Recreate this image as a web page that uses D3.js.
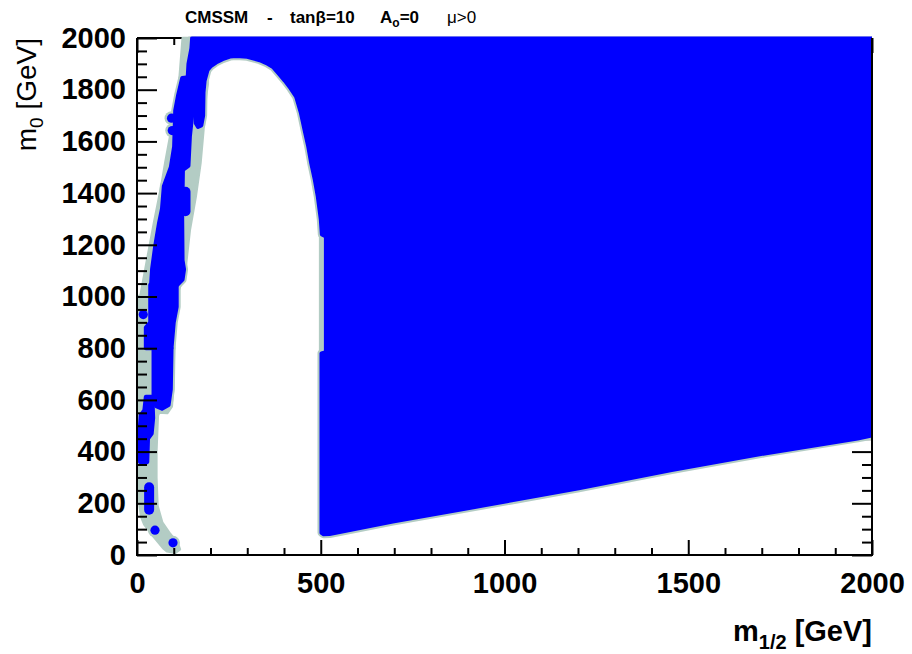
<!DOCTYPE html>
<html>
<head>
<meta charset="utf-8">
<script src="https://cdn.jsdelivr.net/npm/d3@7"></script>
<style>
  html, body { margin: 0; padding: 0; background: #fff; }
  svg { display: block; }
</style>
</head>
<body>
<svg id="chart" width="912" height="654"></svg>
<script>
// ---------------- data (m1/2 [GeV], m0 [GeV]) ----------------
const titleParts = ["CMSSM", "-", "tanβ=10", "A", "o", "=0", "μ>0"];
const xMajorTicks = [0, 500, 1000, 1500, 2000];
const yMajorTicks = [0, 200, 400, 600, 800, 1000, 1200, 1400, 1600, 1800, 2000];

// main allowed (blue) region incl. the upper band
const mainRegion = [[150,2000],[2000,2000],[2000,462],[1961,451],[1708,393],[1455,329],[1202,258],
  [949,193],[696,129],[524,81],[508,80],[502,86],[502,780],[514,785],[514,1232],[503,1240],
  [500,1300],[492,1386],[484,1450],[474,1516],[466,1580],[456,1644],[446,1710],[433,1773],
  [418,1805],[402,1835],[386,1862],[370,1888],[352,1903],[334,1914],[300,1927],[271,1930],
  [253,1928],[233,1918],[215,1905],[200,1890],[192,1876],[184,1835],[181,1790],[180,1700],
  [175,1662],[166,1656],[160,1670],[157,1760],[148,1800],[138,1850],[140,1900],[148,1960]];
// left strip pieces (blue)
const stripA = [[123,1845],[112,1780],[104,1720],[101,1580],[92,1500],[73,1427],[68,1340],[60,1285],
  [50,1200],[41,1106],[38,1040],[60,1035],[110,1045],[124,1065],[128,1105],[124,1140],[123,1300],
  [125,1490],[140,1505],[144,1620],[150,1700],[150,1790],[152,1850]];
const stripB = [[36,1045],[108,1045],[108,960],[100,900],[94,800],[24,800],[24,880],[36,900]];
const stripC = [[45,800],[94,800],[92,640],[86,580],[68,566],[52,576],[45,620]];
const stripD = [[24,612],[42,612],[44,530],[40,470],[30,450],[28,360],[18,352],[8,360],[6,460],[10,540],[20,560]];
const columns = [[132,1330,1405],[33,175,262]];       // [m1/2, m0 from, m0 to]
const dots = [[17,930],[49,96],[98,47],[94,1690],[96,1642]];
// light (cosmology band) envelope
const grayEnvelope = [[125,2000],[160,2000],[192,1880],[192,1824],[187,1773],[180,1644],[172,1516],
  [159,1386],[143,1257],[133,1130],[122,1060],[110,1015],[104,950],[100,800],[98,650],[94,575],
  [82,550],[60,552],[56,540],[52,400],[52,300],[55,190],[68,125],[90,80],[110,45],[116,22],
  [104,10],[82,15],[72,27],[46,71],[20,120],[12,148],[4,230],[2,300],[2,1000],[10,1002],
  [28,1140],[47,1285],[67,1427],[78,1520],[104,1720],[114,1800]];
const grayEdge = [[499,770],[514,770],[514,1245],[499,1245]];

// ---------------- drawing ----------------
const BLUE = "#0000ff", GRAY = "#b3ccc4";
const FONT = "'Liberation Sans', Arial, Helvetica, sans-serif";
const svg = d3.select("#chart");
const x = d3.scaleLinear().domain([0, 2000]).range([137, 872]);
const y = d3.scaleLinear().domain([0, 2000]).range([555, 38]);
const yMinor = d3.range(0, 2001, 50).filter(v => v % 200 !== 0);
const xMinor = d3.range(0, 2001, 100).filter(v => v % 500 !== 0);

function styleAxis(g) {
  g.selectAll("line").attr("stroke", "#000").attr("stroke-width", 2);
  g.selectAll("path.domain").remove();
}
// top / right ticks (beneath the scatter)
svg.append("g").attr("transform", `translate(0,${y(2000)})`)
  .call(d3.axisTop(x).tickValues(xMajorTicks).tickSize(-15).tickFormat("")).call(styleAxis);
svg.append("g").attr("transform", `translate(0,${y(2000)})`)
  .call(d3.axisTop(x).tickValues(xMinor).tickSize(-7).tickFormat("")).call(styleAxis);
svg.append("g").attr("transform", `translate(${x(2000)},0)`)
  .call(d3.axisRight(y).tickValues(yMajorTicks).tickSize(-20).tickFormat("")).call(styleAxis);
svg.append("g").attr("transform", `translate(${x(2000)},0)`)
  .call(d3.axisRight(y).tickValues(yMinor).tickSize(-10).tickFormat("")).call(styleAxis);
svg.append("line").attr("x1", x(0)).attr("x2", x(2000)).attr("y1", y(2000)).attr("y2", y(2000))
  .attr("stroke", "#000").attr("stroke-width", 2);

svg.append("clipPath").attr("id", "clip").append("rect")
  .attr("x", x(0)).attr("y", y(2000) - 1.5).attr("width", x(2000) - x(0)).attr("height", y(0) - y(2000) + 1.5);
const plot = svg.append("g").attr("clip-path", "url(#clip)");
const line = d3.line().x(d => x(d[0])).y(d => y(d[1])).curve(d3.curveLinearClosed);
const blueShapes = [mainRegion, stripA, stripB, stripC, stripD];

plot.selectAll("path.env").data([grayEnvelope, grayEdge]).join("path").attr("class", "env")
  .attr("d", line).attr("fill", GRAY).attr("stroke", GRAY).attr("stroke-width", 3).attr("stroke-linejoin", "round");
// halos
plot.selectAll("path.halo").data(blueShapes).join("path").attr("class", "halo")
  .attr("d", line).attr("fill", GRAY).attr("stroke", GRAY).attr("stroke-width", 8).attr("stroke-linejoin", "round");
plot.selectAll("line.haloc").data(columns).join("line").attr("class", "haloc")
  .attr("x1", d => x(d[0])).attr("x2", d => x(d[0])).attr("y1", d => y(d[1])).attr("y2", d => y(d[2]))
  .attr("stroke", GRAY).attr("stroke-width", 15).attr("stroke-linecap", "round");
plot.selectAll("circle.halod").data(dots).join("circle").attr("class", "halod")
  .attr("cx", d => x(d[0])).attr("cy", d => y(d[1])).attr("r", 7).attr("fill", GRAY);
// blue points
plot.selectAll("path.blue").data(blueShapes).join("path").attr("class", "blue")
  .attr("d", line).attr("fill", BLUE).attr("stroke", BLUE).attr("stroke-width", 4).attr("stroke-linejoin", "round");
plot.selectAll("line.col").data(columns).join("line").attr("class", "col")
  .attr("x1", d => x(d[0])).attr("x2", d => x(d[0])).attr("y1", d => y(d[1])).attr("y2", d => y(d[2]))
  .attr("stroke", BLUE).attr("stroke-width", 10).attr("stroke-linecap", "round");
plot.selectAll("circle.dot").data(dots).join("circle").attr("class", "dot")
  .attr("cx", d => x(d[0])).attr("cy", d => y(d[1])).attr("r", 4.6).attr("fill", BLUE);

// left / bottom axes on top
const gy = svg.append("g").attr("transform", `translate(${x(0)},0)`)
  .call(d3.axisLeft(y).tickValues(yMajorTicks).tickSize(-20).tickPadding(11).tickFormat(d3.format("d")));
styleAxis(gy);
gy.selectAll("text").attr("font-family", FONT).attr("font-weight", "bold").attr("font-size", 29).attr("fill", "#000");
svg.append("g").attr("transform", `translate(${x(0)},0)`)
  .call(d3.axisLeft(y).tickValues(yMinor).tickSize(-10).tickFormat("")).call(styleAxis);
const gx = svg.append("g").attr("transform", `translate(0,${y(0)})`)
  .call(d3.axisBottom(x).tickValues(xMajorTicks).tickSize(-15).tickPadding(17).tickFormat(d3.format("d")));
styleAxis(gx);
gx.selectAll("text").attr("font-family", FONT).attr("font-weight", "bold").attr("font-size", 29).attr("fill", "#000");
svg.append("g").attr("transform", `translate(0,${y(0)})`)
  .call(d3.axisBottom(x).tickValues(xMinor).tickSize(-7).tickFormat("")).call(styleAxis);

// frame (left, bottom, right)
svg.append("path")
  .attr("d", `M${x(0)},${y(2000)}V${y(0)}H${x(2000)}V${y(2000)}`)
  .attr("fill", "none").attr("stroke", "#000").attr("stroke-width", 2).attr("stroke-linejoin", "miter");

// axis titles
const xt = svg.append("text").attr("x", x(2000)).attr("y", 641).attr("text-anchor", "end")
  .attr("font-family", FONT).attr("font-weight", "bold").attr("font-size", 29).attr("fill", "#000");
xt.append("tspan").text("m");
xt.append("tspan").attr("font-size", 20).attr("dy", 8).text("1/2");
xt.append("tspan").attr("dy", -8).text(" [GeV]");

const yt = svg.append("text").attr("transform", `translate(36,${y(2000)}) rotate(-90)`).attr("text-anchor", "end")
  .attr("font-family", FONT).attr("font-size", 28).attr("fill", "#000");
yt.append("tspan").text("m");
yt.append("tspan").attr("font-size", 19).attr("dy", 7).text("0");
yt.append("tspan").attr("dy", -7).text(" [GeV]");

// title
const tg = svg.append("g").attr("font-family", FONT).attr("font-weight", "bold").attr("font-size", 17).attr("fill", "#000");
tg.append("text").attr("x", 185).attr("y", 23).text(titleParts[0]);
tg.append("text").attr("x", 267).attr("y", 23).text(titleParts[1]);
tg.append("text").attr("x", 290).attr("y", 23).text(titleParts[2]);
const ta = tg.append("text").attr("x", 380).attr("y", 23);
ta.append("tspan").text(titleParts[3]);
ta.append("tspan").attr("font-size", 12).attr("dy", 4).text(titleParts[4]);
ta.append("tspan").attr("dy", -4).text(titleParts[5]);
tg.append("text").attr("x", 447).attr("y", 23).attr("font-weight", "normal").text(titleParts[6]);
</script>
</body>
</html>
